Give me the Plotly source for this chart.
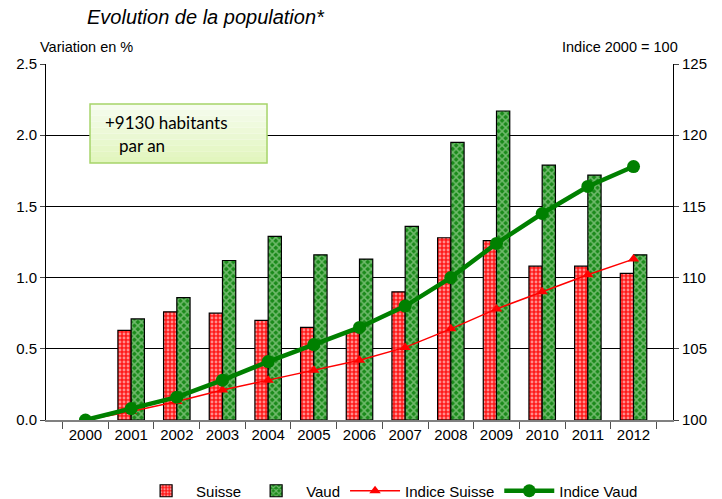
import plotly.graph_objects as go

years = [str(y) for y in range(2000, 2013)]
suisse = [None, 0.63, 0.76, 0.75, 0.70, 0.65, 0.62, 0.90, 1.28, 1.26, 1.08, 1.08, 1.03]
vaud = [None, 0.71, 0.86, 1.12, 1.29, 1.16, 1.13, 1.36, 1.95, 2.17, 1.79, 1.72, 1.16]
indice_suisse = [100.0, 100.6, 101.3, 102.1, 102.8, 103.5, 104.2, 105.1, 106.4, 107.8, 109.0, 110.2, 111.3]
indice_vaud = [100.0, 100.8, 101.6, 102.8, 104.1, 105.3, 106.5, 108.0, 110.0, 112.4, 114.5, 116.4, 117.8]

FONT = "Liberation Sans, Arial, sans-serif"

fig = go.Figure()
fig.add_trace(go.Bar(
    x=years, y=suisse, name="Suisse",
    marker=dict(color="#ff0000",
                line=dict(color="black", width=1.2),
                pattern=dict(shape=".", fgcolor="#ffffff", bgcolor="#ff1a1a",
                             size=4, solidity=0.4, fillmode="overlay")),
))
fig.add_trace(go.Bar(
    x=years, y=vaud, name="Vaud",
    marker=dict(color="#1a8a1a",
                line=dict(color="black", width=1.2),
                pattern=dict(shape="x", fgcolor="#c8eac0", bgcolor="#1a8a1a",
                             size=5, solidity=0.5, fillmode="overlay")),
))
fig.add_trace(go.Scatter(
    x=years, y=indice_suisse, name="Indice Suisse", yaxis="y2",
    mode="lines+markers",
    line=dict(color="#ff0000", width=1.5),
    marker=dict(symbol="triangle-up", size=10, color="#ff0000"),
))
fig.add_trace(go.Scatter(
    x=years, y=indice_vaud, name="Indice Vaud", yaxis="y2",
    mode="lines+markers",
    line=dict(color="#008000", width=4.5),
    marker=dict(symbol="circle", size=13, color="#008000"),
))

# annotation box with light vertical gradient
x0, x1, y0, y1 = 0.0702, 0.3525, 0.7219, 0.8876
shapes = []
n = 10
for i in range(n):
    t = i / (n - 1)
    r = int(246 + (226 - 246) * t)
    g = int(252 + (246 - 252) * t)
    b = int(238 + (190 - 238) * t)
    ya = y1 - (y1 - y0) * i / n
    yb = y1 - (y1 - y0) * (i + 1) / n
    shapes.append(dict(type="rect", xref="paper", yref="paper", x0=x0, x1=x1,
                       y0=yb, y1=ya, fillcolor=f"rgb({r},{g},{b})",
                       line=dict(width=0), layer="above"))
shapes.append(dict(type="rect", xref="paper", yref="paper", x0=x0, x1=x1, y0=y0, y1=y1,
                   fillcolor="rgba(0,0,0,0)", line=dict(color="#a6d46a", width=1.5),
                   layer="above"))

annotations = [
    dict(text="<i>Evolution de la population*</i>", xref="paper", yref="paper",
         x=0.062, y=1.132, xanchor="left", yanchor="middle", showarrow=False,
         font=dict(family=FONT, size=20, color="black")),
    dict(text="Variation en %", xref="paper", yref="paper",
         x=-0.013, y=1.048, xanchor="left", yanchor="middle", showarrow=False,
         font=dict(family=FONT, size=14.5, color="black")),
    dict(text="Indice 2000 = 100", xref="paper", yref="paper",
         x=1.011, y=1.048, xanchor="right", yanchor="middle", showarrow=False,
         font=dict(family=FONT, size=14.5, color="black")),
    dict(text="+9130 habitants", xref="paper", yref="paper",
         x=0.0909, y=0.837, xanchor="left", yanchor="middle", showarrow=False,
         font=dict(family="Lato, sans-serif", size=17, color="black")),
    dict(text="par an", xref="paper", yref="paper",
         x=0.1132, y=0.770, xanchor="left", yanchor="middle", showarrow=False,
         font=dict(family="Lato, sans-serif", size=17, color="black")),
]

fig.update_layout(
    width=722, height=499,
    margin=dict(l=46, r=49, t=64, b=79),
    paper_bgcolor="white", plot_bgcolor="white",
    barmode="group", bargap=0.42, bargroupgap=0.0,
    font=dict(family=FONT, size=15, color="black"),
    showlegend=True,
    legend=dict(orientation="h", x=0.548, xanchor="center",
                yref="container", y=0.016, yanchor="middle",
                font=dict(family=FONT, size=15), itemwidth=50, traceorder="normal",
                tracegroupgap=0),
    xaxis=dict(type="category", showline=True, linecolor="#808080", linewidth=2,
               ticks="outside", ticklen=7, tickcolor="#505050", tickson="boundaries",
               showgrid=False, tickfont=dict(size=15)),
    yaxis=dict(range=[0, 2.5], dtick=0.5, tickformat=".1f", showline=True,
               linecolor="black", linewidth=1, ticks="outside", ticklen=5,
               showgrid=True, gridcolor="black", gridwidth=1, zeroline=False,
               tickfont=dict(size=15)),
    yaxis2=dict(range=[100, 125], dtick=5, overlaying="y", side="right",
                showline=True, linecolor="black", linewidth=1, ticks="outside",
                ticklen=5, showgrid=False, zeroline=False, tickfont=dict(size=15)),
    shapes=shapes,
    annotations=annotations,
)

fig.write_html("out.html", config={"displayModeBar": False},
               post_script="document.body.style.margin='0';document.body.style.padding='0';")
